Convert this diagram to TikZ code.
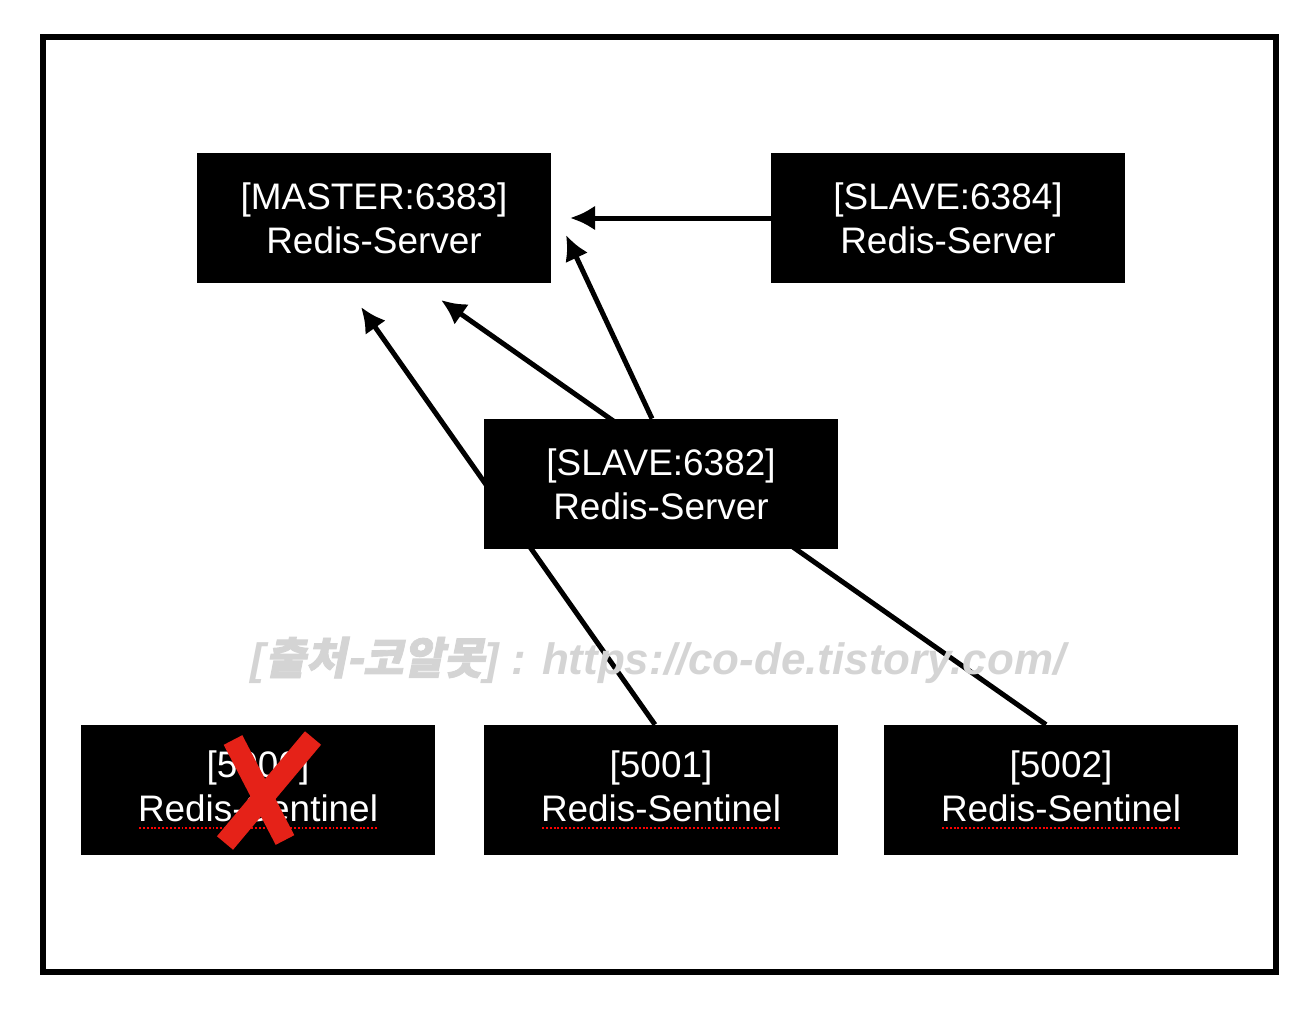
\documentclass[tikz,border=0pt]{standalone}
\usepackage{fontspec}
\setmainfont{Liberation Sans}
\newfontfamily\krfont[FakeSlant=0.2,FakeBold=2]{Noto Sans CJK KR}
\usetikzlibrary{arrows.meta,backgrounds}

% red dotted spell-check mark under a word
\newcommand\spellmark[1]{\setbox0\hbox{#1}\rlap{\raisebox{-4pt}{\color{red}\hbox to \wd0{\xleaders\hbox to 2.2pt{\hss\rule{1.1pt}{1.1pt}\hss}\hfill}}}\box0}

\begin{document}
\begin{tikzpicture}[
box/.style={
fill=black,
text=white,
align=center,
minimum width=7.08cm,
minimum height=2.6cm,
font=\fontsize{21}{25}\selectfont
},
link/.style={
line width=0.1cm,
-{Latex[length=0.5cm,width=0.5cm]}
}
]
\useasboundingbox (0,0) rectangle (26.32,-20.32);

\draw[line width=0.12cm] (0.86,-0.74) rectangle (25.52,-19.44);

\node[box] (Master) at (7.48,-4.36)
{[MASTER:6383]\\Redis-Server};

\node[box] (Slave84) at (18.96,-4.36)
{[SLAVE:6384]\\Redis-Server};

\node[box] (Slave82) at (13.22,-9.68)
{[SLAVE:6382]\\Redis-Server};

\node[box] (Sen0) at (5.16,-15.8)
{[5000]\\\spellmark{Redis-Sentinel}};

\node[box] (Sen1) at (13.22,-15.8)
{[5001]\\\spellmark{Redis-Sentinel}};

\node[box] (Sen2) at (21.22,-15.8)
{[5002]\\\spellmark{Redis-Sentinel}};

\coordinate (TipA) at (11.4,-4.36);
\coordinate (TipB) at (11.32,-4.7);
\coordinate (TipC) at (8.82,-6.0);
\coordinate (TipD) at (7.22,-6.14);

\begin{scope}[on background layer]
\draw[link] (Slave84) -- (TipA);
\draw[link] ([xshift=-0.18cm]Slave82.north) -- (TipB);
\draw[link] ([xshift=-0.3cm]Sen2.north) -- (TipC);
\draw[link] ([xshift=-0.12cm]Sen1.north) -- (TipD);
\end{scope}

\node[text=black!17, font=\fontsize{25}{29}\selectfont\bfseries\itshape] (Mark) at (13.16,-13.2)
{[{\krfont 출처-코알못}] : https://co-de.tistory.com/};

% failed sentinel
\draw[line width=0.42cm, color={rgb,255:red,229;green,34;blue,24}]
(4.66,-14.8) -- (5.7,-16.8)
(6.26,-14.76) -- (4.5,-16.86);

\end{tikzpicture}
\end{document}
